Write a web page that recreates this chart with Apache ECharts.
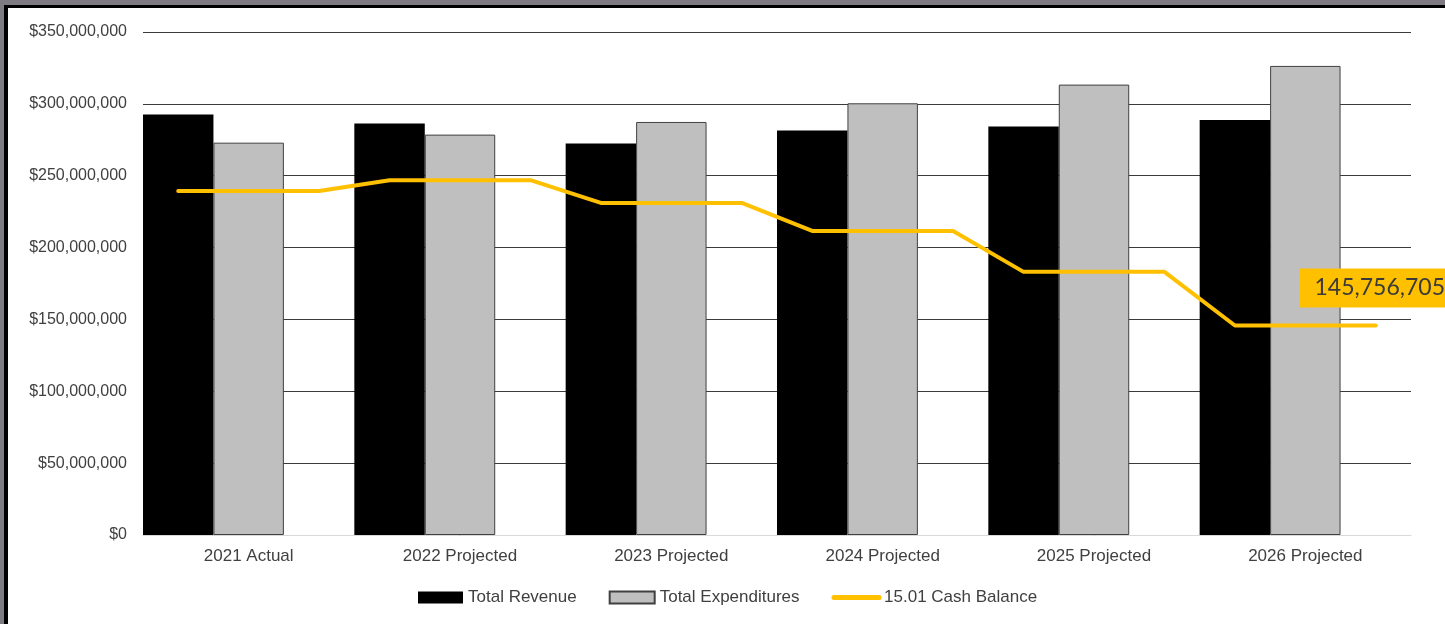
<!DOCTYPE html>
<html>
<head>
<meta charset="utf-8">
<script src="https://cdn.jsdelivr.net/npm/echarts@6/dist/echarts.min.js"></script>
<style>
  html, body { margin: 0; padding: 0; }
  body { width: 1445px; height: 624px; background: #7f7b83; position: relative; overflow: hidden; }
  .frame { position: absolute; left: 4px; top: 5px; right: 0; bottom: 0; border-left: 4px solid #000; border-top: 3px solid #000; background: #fff; }
  #chart { width: 1437px; height: 616px; }
</style>
</head>
<body>
<div class="frame"><div id="chart"></div></div>
<script>
// categories
const categories = ["2021 Actual", "2022 Projected", "2023 Projected", "2024 Projected", "2025 Projected", "2026 Projected"];

// series values
const totalRevenue = [292600000, 286300000, 272400000, 281400000, 284200000, 288800000];
const totalExpenditures = [273000000, 278600000, 287400000, 300400000, 313400000, 326400000];
const cashBalance = [239400000, 246900000, 231100000, 211600000, 183100000, 145756705];

// legend names
const seriesNames = ["Total Revenue", "Total Expenditures", "15.01 Cash Balance"];

// y axis ticks
const yMin = 0;
const yMax = 350000000;
const yStep = 50000000;

// the cash line runs flat across each category: three slots per category
const lineSlots = categories.flatMap((c) => [c + "#a", c + "#b", c + "#c"]);
const lineData = cashBalance.flatMap((v) => [v, v, v]);

const textColor = "#404040";
const money = (v) => "$" + Number(v).toLocaleString("en-US");

const chart = echarts.init(document.getElementById("chart"));

//最后一个点带数据标签
const lineSeriesData = lineData.map((v, i) => {
  if (i !== lineData.length - 1) return v;
  return {
    value: v,
    label: {
      show: true,
      position: "top",
      distance: 18,
      offset: [4, 0],
      formatter: (p) => Number(p.value).toLocaleString("en-US"),
      backgroundColor: "#FFC000",
      color: "#3a3a3a",
      fontFamily: "Lato",
      fontSize: 23,
      padding: [8, 15, 8, 15],
    },
  };
});

chart.setOption({
  backgroundColor: "#fff",
  animation: false,
  textStyle: { fontFamily: "Liberation Sans" },
  grid: { left: 135, right: 34, top: 24, bottom: 89 },
  legend: {
    data: [
      { name: seriesNames[0], icon: "rect" },
      { name: seriesNames[1], icon: "rect" },
      { name: seriesNames[2], itemStyle: { opacity: 0 }, lineStyle: { width: 5, cap: "round" } },
    ],
    left: 405,
    top: 576,
    itemWidth: 45,
    itemHeight: 12,
    itemGap: 32,
    textStyle: { color: textColor, fontSize: 17, fontFamily: "Liberation Sans" },
  },
  xAxis: [
    {
      type: "category",
      data: categories,
      axisLine: { lineStyle: { color: "#d9d9d9", width: 1 } },
      axisTick: { show: false },
      axisLabel: { color: textColor, fontSize: 17, margin: 13 },
    },
    {
      type: "category",
      data: lineSlots,
      show: false,
      boundaryGap: true,
    },
  ],
  yAxis: {
    type: "value",
    min: yMin,
    max: yMax,
    interval: yStep,
    axisLine: { show: false },
    axisTick: { show: false },
    axisLabel: { color: textColor, fontSize: 16, margin: 16, formatter: money },
    splitLine: { lineStyle: { color: "#3a3a3a", width: 1 } },
  },
  series: [
    {
      name: seriesNames[0],
      type: "bar",
      data: totalRevenue,
      barGap: "0%",
      barCategoryGap: "0%",
      itemStyle: { color: "#000" },
    },
    {
      name: seriesNames[1],
      type: "bar",
      data: totalExpenditures,
      itemStyle: { color: "#bfbfbf", borderColor: "#404040", borderWidth: 1 },
    },
    {
      // 空白占位柱，占据每组第三个位置
      name: "spacer",
      type: "bar",
      data: [],
    },
    {
      name: seriesNames[2],
      type: "line",
      xAxisIndex: 1,
      data: lineSeriesData,
      symbol: "circle",
      symbolSize: 0,
      showSymbol: true,
      showAllSymbol: true,
      lineStyle: { color: "#FFC000", width: 4, cap: "round", join: "round" },
      itemStyle: { color: "#FFC000" },
    },
  ],
});

window.addEventListener("resize", () => chart.resize());
</script>
</body>
</html>
